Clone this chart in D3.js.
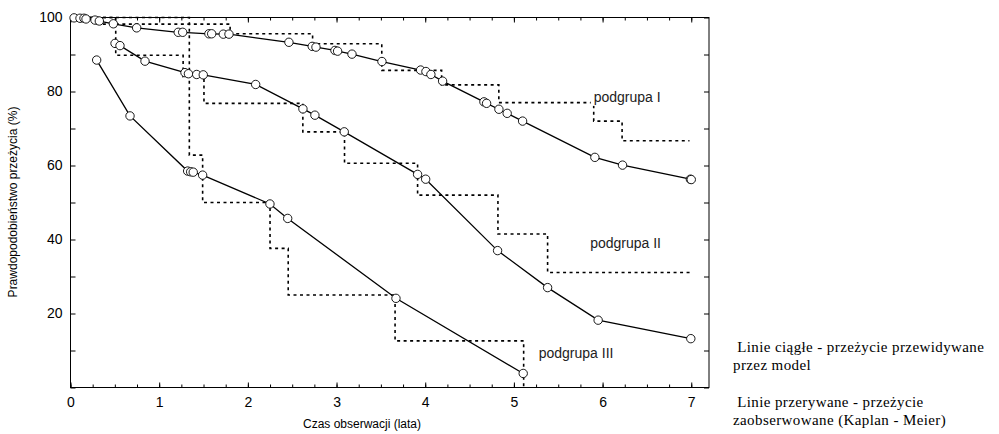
<!DOCTYPE html>
<html>
<head>
<meta charset="utf-8">
<script src="https://cdn.jsdelivr.net/npm/d3@7"></script>
<style>
  body { margin: 0; background: #fff; }
  text { font-family: "Liberation Sans", Arial, sans-serif; }
</style>
</head>
<body>
<div id="chart"></div>
<script>
// data: [time (years), survival (%)]
var modelI = [[0.04,99.9],[0.107,99.8],[0.152,99.8],[0.175,99.6],[0.276,99.3],[0.325,99.05],
  [0.483,98.3],[0.746,97.2],[1.215,96.0],[1.265,96.0],[1.561,95.6],[1.592,95.6],[1.723,95.5],
  [1.787,95.5],[2.463,93.3],[2.726,92.2],[2.768,92.0],[2.982,91.1],[3.012,90.9],[3.174,90.1],
  [3.512,88.1],[3.948,85.8],[4.008,85.4],[4.064,84.6],[4.196,82.8],[4.662,77.2],[4.692,76.8],
  [4.831,75.2],[4.924,74.1],[5.098,72.0],[5.913,62.2],[6.225,60.1],[6.99,56.3],[7.0,56.2]];
var modelII = [[0.502,93.0],[0.558,92.4],[0.84,88.2],[1.291,85.1],[1.33,84.8],[1.423,84.6],
  [1.497,84.5],[2.088,81.9],[2.621,75.3],[2.756,73.6],[3.087,69.1],[3.914,57.6],[4.005,56.3],
  [4.816,37.0],[5.38,27.0],[5.95,18.2],[6.995,13.2]];
var modelIII = [[0.295,88.5],[0.671,73.4],[1.321,58.5],[1.355,58.3],[1.384,58.2],[1.49,57.4],
  [2.249,49.6],[2.449,45.7],[3.67,24.1],[5.105,3.8]];

// Kaplan-Meier steps: value holds from that time onward
var kmI = [[0,100],[0.28,98.2],[1.80,95.6],[2.73,92.9],[3.51,85.7],[4.185,81.8],[4.83,77.0],
  [5.90,72.0],[6.22,66.7],[6.98,66.7]];
var kmII = [[0,100],[0.51,89.8],[1.27,84.0],[1.505,76.8],[2.62,69.1],[3.09,60.6],[3.914,52.0],
  [4.82,41.5],[5.38,31.1],[7.02,31.1]];
var kmIII = [[0,100],[1.34,62.8],[1.49,50.0],[2.25,37.6],[2.455,25.0],[3.66,12.6],[5.11,0]];

var xMajor = [0,1,2,3,4,5,6,7];
var yMajor = [20,40,60,80,100];
var groupLabels = [
  {text: "podgrupa I", t: 5.9, s: 77.2},
  {text: "podgrupa II", t: 5.86, s: 37.8},
  {text: "podgrupa III", t: 5.28, s: 8.0}
];
var notes = [" Linie ciągłe - przeżycie przewidywane", "przez model",
  " Linie przerywane - przeżycie", "zaobserwowane (Kaplan - Meier)"];

var width = 999, height = 434;

var svg = d3.select("#chart").append("svg")
    .attr("width", width)
    .attr("height", height);

var x = d3.scaleLinear().domain([0, 7.2]).range([70.5, 709]);
var y = d3.scaleLinear().domain([0, 100]).range([387.5, 17.5]);

var xMinor = d3.range(0, 7.2001, 0.25);
var yMinor = d3.range(0, 100.001, 10);

// frame
svg.append("rect")
  .attr("x", x(0)).attr("y", y(100))
  .attr("width", x(7.2) - x(0)).attr("height", y(0) - y(100))
  .attr("fill", "none").attr("stroke", "#000").attr("stroke-width", 1);

function noDomain(g) { g.select(".domain").remove(); }

// minor ticks
svg.append("g").attr("transform", "translate(0," + y(0) + ")")
  .call(d3.axisBottom(x).tickValues(xMinor).tickSize(-3).tickFormat(""))
  .call(noDomain);
svg.append("g").attr("transform", "translate(0," + y(100) + ")")
  .call(d3.axisTop(x).tickValues(xMinor).tickSize(-3).tickFormat(""))
  .call(noDomain);

// major ticks + labels
svg.append("g").attr("class", "xaxis").attr("transform", "translate(0," + y(0) + ")")
  .call(d3.axisBottom(x).tickValues(xMajor).tickSize(-5).tickPadding(10).tickFormat(d3.format("d")))
  .call(noDomain);
svg.append("g").attr("transform", "translate(0," + y(100) + ")")
  .call(d3.axisTop(x).tickValues(xMajor).tickSize(-5).tickFormat(""))
  .call(noDomain);

svg.append("g").attr("transform", "translate(" + x(0) + ",0)")
  .call(d3.axisLeft(y).tickValues(yMinor).tickSize(-5).tickFormat(""))
  .call(noDomain);
svg.append("g").attr("class", "yaxis").attr("transform", "translate(" + x(0) + ",0)")
  .call(d3.axisLeft(y).tickValues(yMajor).tickSize(0).tickPadding(8).tickFormat(d3.format("d")))
  .call(noDomain);
svg.append("g").attr("transform", "translate(" + x(7.2) + ",0)")
  .call(d3.axisRight(y).tickValues(yMinor).tickSize(-5).tickFormat(""))
  .call(noDomain);

svg.selectAll(".tick line").attr("stroke", "#000");
svg.selectAll(".xaxis text, .yaxis text")
  .style("font-size", "14px").attr("fill", "#000")
  .style("font-family", "'Liberation Sans', Arial, sans-serif");

// axis titles
svg.append("text")
  .attr("x", 362).attr("y", 428)
  .attr("text-anchor", "middle").style("font-size", "12px")
  .text("Czas obserwacji (lata)");
svg.append("text")
  .attr("transform", "translate(17,202) rotate(-90)")
  .attr("text-anchor", "middle").style("font-size", "12px")
  .text("Prawdopodobieństwo przeżycia (%)");

// Kaplan-Meier dashed steps
var step = d3.line()
  .x(function(d) { return x(d[0]); })
  .y(function(d) { return y(d[1]); })
  .curve(d3.curveStepAfter);

[kmI, kmII, kmIII].forEach(function(km) {
  svg.append("path")
    .attr("d", step(km))
    .attr("fill", "none")
    .attr("stroke", "#000")
    .attr("stroke-width", 1.6)
    .attr("stroke-dasharray", "3,3.5");
});

// group labels with white background
groupLabels.forEach(function(l) {
  var t = svg.append("text")
    .attr("x", x(l.t)).attr("y", y(l.s))
    .style("font-size", "14px").attr("fill", "#222")
    .text(l.text);
  var b = t.node().getBBox();
  svg.insert("rect", function() { return t.node(); })
    .attr("x", b.x - 3).attr("y", b.y - 1)
    .attr("width", b.width + 4).attr("height", b.height + 2)
    .attr("fill", "#fff");
});

// model lines with circles
var line = d3.line()
  .x(function(d) { return x(d[0]); })
  .y(function(d) { return y(d[1]); });

[modelI, modelII, modelIII].forEach(function(m) {
  svg.append("path")
    .attr("d", line(m))
    .attr("fill", "none")
    .attr("stroke", "#000")
    .attr("stroke-width", 1.3);
  svg.append("g").selectAll("circle")
    .data(m)
    .enter()
    .append("circle")
    .attr("cx", function(d) { return x(d[0]); })
    .attr("cy", function(d) { return y(d[1]); })
    .attr("r", 4.2)
    .attr("fill", "#fff")
    .attr("stroke", "#000")
    .attr("stroke-width", 0.9);
});

// notes on the right
var noteY = [352, 370, 407, 425];
svg.selectAll(".note")
  .data(notes)
  .enter()
  .append("text")
  .attr("class", "note")
  .attr("x", 733)
  .attr("y", function(d, i) { return noteY[i]; })
  .style("font-family", "'Liberation Serif', 'Times New Roman', serif")
  .style("font-size", "15px")
  .style("letter-spacing", "0.4px")
  .attr("xml:space", "preserve")
  .style("white-space", "pre")
  .text(function(d) { return d; });
</script>
</body>
</html>
